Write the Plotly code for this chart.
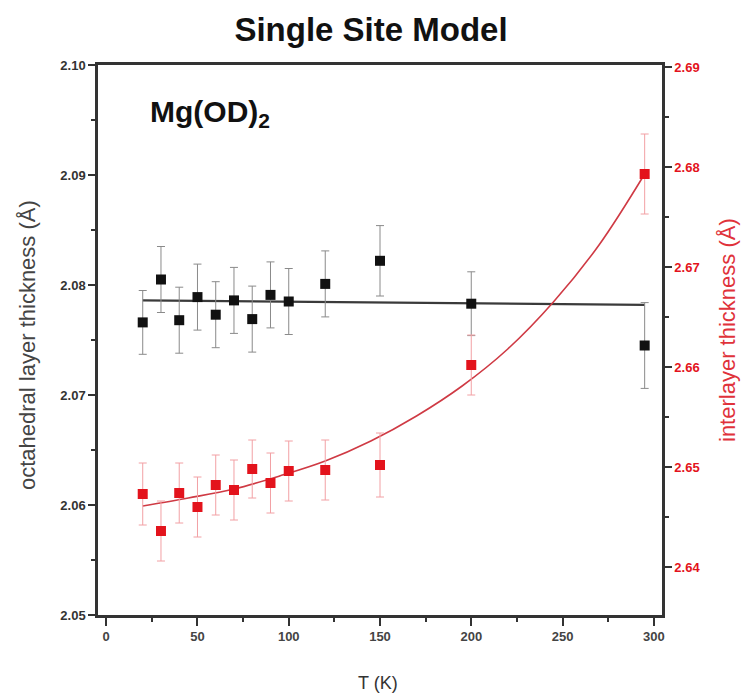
import plotly.graph_objects as go

# ---- data ----
T_black = [20, 30, 40, 50, 60, 70, 80, 90, 100, 120, 150, 200, 295]
octa = [2.0766, 2.0805, 2.0768, 2.0789, 2.0773, 2.0786, 2.0769, 2.0791, 2.0785, 2.0801, 2.0822, 2.0783, 2.0745]
octa_err = [0.0029, 0.0030, 0.0030, 0.0030, 0.0030, 0.0030, 0.0030, 0.0030, 0.0030, 0.0030, 0.0032, 0.0029, 0.0039]

T_red = [20, 30, 40, 50, 60, 70, 80, 90, 100, 120, 150, 200, 295]
inter = [2.6473, 2.6436, 2.6474, 2.6460, 2.6482, 2.6477, 2.6498, 2.6484, 2.6496, 2.6497, 2.6502, 2.6602, 2.6793]
inter_err = [0.0031, 0.0030, 0.0030, 0.0030, 0.0030, 0.0030, 0.0029, 0.0030, 0.0030, 0.0030, 0.0032, 0.0030, 0.0040]

# fit lines
fit_black_T = [20, 295]
fit_black_val = [2.0786, 2.0782]
fit_red_T = [20, 45, 70, 95, 120, 145, 170, 195, 220, 245, 270, 295]
fit_red_val = [2.6461, 2.6469, 2.6478, 2.6491, 2.6506, 2.6526, 2.6551, 2.6581, 2.6618, 2.6665, 2.6722, 2.6793]

x_ticks = [0, 50, 100, 150, 200, 250, 300]
left_ticks = [2.05, 2.06, 2.07, 2.08, 2.09, 2.10]
right_ticks = [2.64, 2.65, 2.66, 2.67, 2.68, 2.69]

RED = "#e3131c"
FONT = "Liberation Sans, Arial, sans-serif"

fig = go.Figure()

fig.add_trace(go.Scatter(
    x=fit_black_T, y=fit_black_val, mode="lines",
    line=dict(color="#3a3a3a", width=2.2), showlegend=False, hoverinfo="skip"))

fig.add_trace(go.Scatter(
    x=fit_red_T, y=fit_red_val, mode="lines", yaxis="y2",
    line=dict(color="#cf3a44", width=1.6, shape="spline", smoothing=1.0),
    showlegend=False, hoverinfo="skip"))

fig.add_trace(go.Scatter(
    x=T_black, y=octa, mode="markers",
    marker=dict(symbol="square", size=10, color="#111111"),
    error_y=dict(type="data", array=octa_err, color="#8a8a8a", thickness=1, width=4),
    showlegend=False))

fig.add_trace(go.Scatter(
    x=T_red, y=inter, mode="markers", yaxis="y2",
    marker=dict(symbol="square", size=10, color=RED),
    error_y=dict(type="data", array=inter_err, color="#f2a0a4", thickness=1, width=4),
    showlegend=False))

fig.update_layout(
    width=742, height=700,
    margin=dict(l=98, r=80, t=65, b=85),
    paper_bgcolor="white", plot_bgcolor="white",
    font=dict(family=FONT, color="#222"),
    title=dict(text="<b>Single Site Model</b>", x=0.5, xanchor="center",
               y=1 - 29 / 700, yanchor="middle",
               font=dict(size=33, color="#111", family=FONT)),
    xaxis=dict(range=[-4.5, 304.5], tickvals=x_ticks, ticks="outside", ticklen=8, tickwidth=2,
               tickcolor="#333", showline=True, linewidth=2.5, linecolor="#333", mirror=True,
               showgrid=False, zeroline=False,
               tickfont=dict(size=13, color="#444", weight="bold"),
               minor=dict(dtick=25, tick0=0, ticks="outside", ticklen=4, tickwidth=2, tickcolor="#333")),
    yaxis=dict(range=[2.05, 2.10], tickvals=left_ticks, tickformat=".2f", ticks="outside",
               ticklen=7, tickwidth=1.5, tickcolor="#333", showline=True, linewidth=2.5,
               linecolor="#333", showgrid=False, zeroline=False,
               tickfont=dict(size=13, color="#333", weight="bold"),
               minor=dict(dtick=0.005, tick0=2.05, ticks="outside", ticklen=4, tickwidth=1.5, tickcolor="#333")),
    yaxis2=dict(range=[2.6352, 2.6902], tickvals=right_ticks, tickformat=".2f", overlaying="y",
                side="right", ticks="outside", ticklen=7, tickwidth=1.5, tickcolor="#333",
                showline=True, linewidth=2.5, linecolor="#333", showgrid=False, zeroline=False,
                tickfont=dict(size=13, color=RED, weight="bold"),
                minor=dict(dtick=0.005, tick0=2.635, ticks="outside", ticklen=4, tickwidth=1.5, tickcolor="#333")),
    annotations=[
        dict(text="<b>Mg(OD)<sub>2</sub></b>", xref="paper", yref="paper",
             x=(148 - 98) / 564, y=(615 - 113) / 550, xanchor="left", yanchor="middle",
             showarrow=False, font=dict(size=30, color="#111", family=FONT)),
        dict(text="octahedral layer thickness (Å)", xref="paper", yref="paper",
             x=(28 - 98) / 564, y=(615 - 345) / 550, xanchor="center", yanchor="middle",
             textangle=-90, showarrow=False, font=dict(size=22, color="#444", family=FONT)),
        dict(text="interlayer thickness (Å)", xref="paper", yref="paper",
             x=(727 - 98) / 564, y=(615 - 330) / 550, xanchor="center", yanchor="middle",
             textangle=-90, showarrow=False, font=dict(size=22, color="#e0323a", family=FONT)),
        dict(text="T (K)", xref="paper", yref="paper",
             x=(378 - 98) / 564, y=(615 - 683) / 550, xanchor="center", yanchor="middle",
             showarrow=False, font=dict(size=18, color="#333", family=FONT)),
    ],
)

fig.write_html("out.html")
